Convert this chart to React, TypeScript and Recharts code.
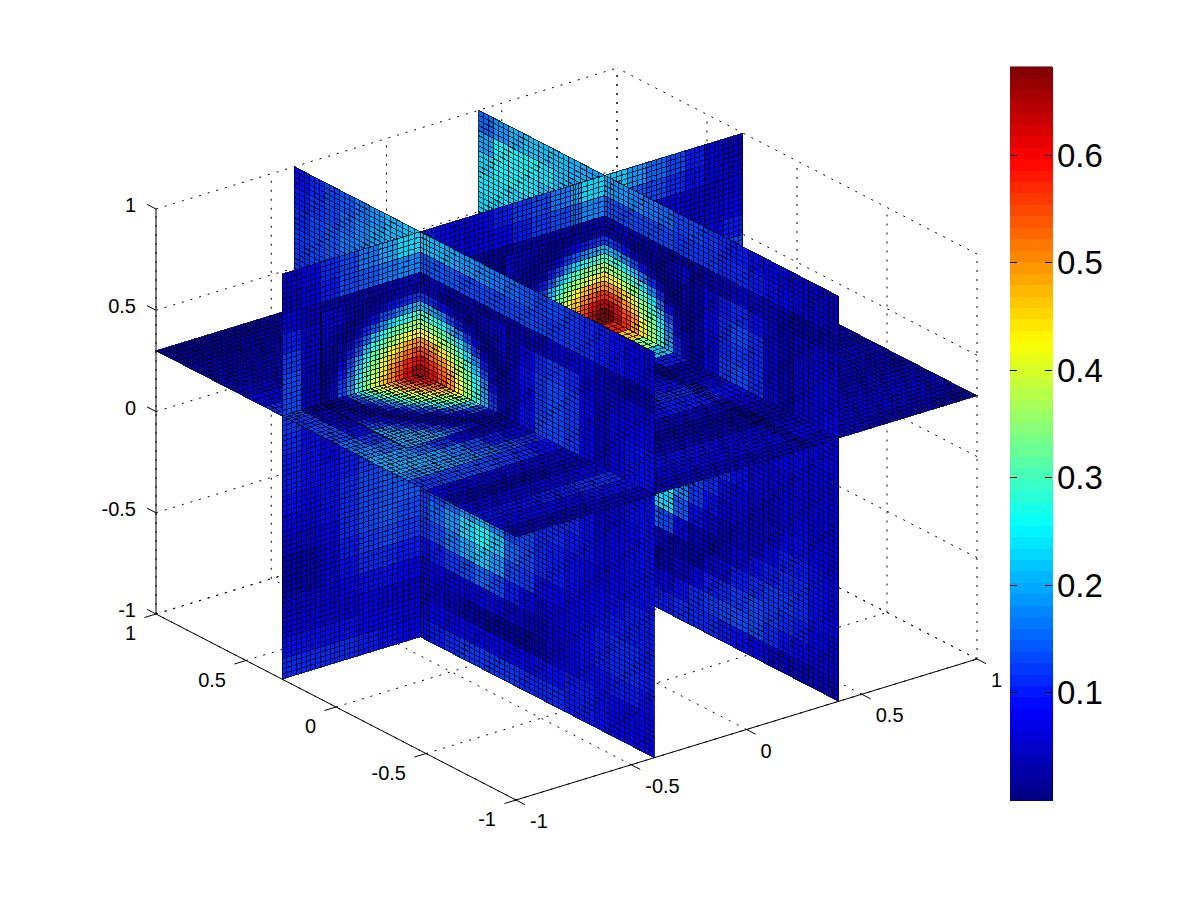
import { Bar, BarChart, ReferenceArea, ReferenceLine, Scatter, ScatterChart, XAxis, YAxis } from 'recharts'

// slice positions
const X_NEAR = -0.4
const X_FAR = 0.4
const Y_SLICE = 0.3
const Z_SLICE = 0.3

const gridEdges = [-1, -0.9167, -0.8333, -0.75, -0.6667, -0.5833, -0.5, -0.4, -0.3333, -0.25, -0.1667, -0.0833, 0, 0.0833, 0.1667, 0.25, 0.3, 0.4, 0.5, 0.5833, 0.6667, 0.75, 0.8333, 0.9167, 1]
const zEdges = [1, 0.9, 0.8, 0.7, 0.6, 0.5, 0.4, 0.3, 0.2, 0.1, 0, -0.1, -0.2, -0.3, -0.4, -0.5, -0.6, -0.7, -0.8, -0.9, -1]
const axisTicks = [-1, -0.5, 0, 0.5, 1]
const colorbarTicks = [0.1, 0.2, 0.3, 0.4, 0.5, 0.6]
const COLOR_MIN = 0.003
const COLOR_MAX = 0.68
const COLORBAR_TOP = 0.682

// values x100. rows: z from 1 to -1, columns: y from 1 to -1
const xNearValues = [
  [9, 11, 13, 15, 17, 19, 21, 22, 22, 21, 20, 19, 18, 17, 16, 15, 14, 13, 12, 11, 10, 9, 8, 7],
  [10, 12, 14, 16, 18, 20, 21, 20, 15, 15, 15, 14, 14, 14, 13, 13, 13, 12, 12, 11, 10, 9, 8, 7],
  [11, 13, 15, 17, 18, 18, 16, 12, 5, 5, 4, 4, 3, 3, 4, 4, 5, 6, 7, 7, 5, 4, 4, 4],
  [12, 14, 15, 16, 16, 14, 12, 14, 22, 20, 16, 11, 6, 3, 4, 8, 11, 12, 11, 7, 5, 6, 7, 7],
  [12, 13, 14, 14, 13, 12, 20, 30, 38, 35, 29, 21, 12, 5, 5, 9, 12, 14, 12, 8, 5, 7, 8, 8],
  [11, 11, 10, 9, 10, 18, 32, 44, 50, 47, 41, 31, 19, 8, 5, 8, 12, 13, 12, 8, 5, 7, 9, 9],
  [9, 8, 7, 6, 12, 28, 46, 58, 64, 57, 48, 36, 22, 9, 5, 9, 13, 14, 12, 8, 5, 7, 9, 9],
  [8, 7, 6, 6, 10, 24, 40, 52, 56, 52, 44, 33, 19, 8, 5, 8, 12, 13, 12, 9, 6, 7, 9, 9],
  [8, 7, 6, 6, 8, 14, 20, 26, 28, 26, 22, 17, 11, 6, 5, 8, 11, 12, 12, 9, 6, 7, 9, 9],
  [8, 7, 7, 7, 7, 9, 11, 13, 13, 13, 12, 10, 8, 6, 6, 9, 10, 11, 11, 9, 6, 7, 8, 9],
  [8, 8, 8, 8, 8, 8, 8, 8, 8, 8, 9, 10, 10, 10, 9, 11, 11, 11, 11, 9, 7, 8, 9, 9],
  [9, 9, 9, 9, 9, 9, 9, 9, 9, 10, 12, 14, 15, 14, 12, 12, 11, 11, 10, 9, 7, 8, 9, 9],
  [9, 9, 9, 9, 10, 10, 10, 11, 12, 14, 16, 19, 21, 18, 14, 13, 11, 10, 9, 8, 7, 8, 9, 9],
  [9, 9, 9, 9, 10, 10, 11, 12, 14, 16, 19, 23, 25, 22, 16, 14, 11, 10, 9, 8, 8, 9, 10, 10],
  [8, 8, 8, 9, 9, 9, 10, 11, 12, 14, 17, 20, 22, 19, 14, 12, 9, 8, 8, 8, 9, 10, 10, 10],
  [7, 7, 7, 7, 8, 8, 8, 9, 9, 10, 12, 14, 16, 14, 10, 8, 6, 7, 8, 9, 10, 11, 11, 10],
  [6, 6, 6, 6, 6, 6, 7, 7, 7, 7, 7, 7, 8, 7, 6, 5, 5, 6, 8, 9, 10, 11, 11, 10],
  [5, 5, 5, 5, 5, 5, 5, 5, 6, 6, 5, 4, 3, 3, 3, 3, 4, 6, 8, 9, 9, 10, 10, 9],
  [6, 6, 6, 6, 6, 6, 6, 6, 7, 8, 8, 8, 8, 8, 8, 8, 9, 9, 10, 10, 9, 8, 8, 8],
  [8, 8, 8, 8, 8, 8, 8, 8, 9, 10, 11, 12, 12, 12, 12, 11, 11, 11, 10, 10, 9, 8, 8, 8],
]

const xFarValues = [
  [16, 19, 21, 22, 22, 22, 21, 20, 20, 19, 18, 17, 16, 14, 13, 12, 11, 10, 9, 8, 7, 6, 6, 5],
  [20, 25, 25, 25, 24, 22, 20, 18, 15, 14, 14, 13, 13, 12, 12, 12, 11, 11, 10, 9, 8, 7, 6, 5],
  [23, 25, 25, 24, 22, 20, 16, 13, 5, 5, 4, 4, 3, 3, 3, 4, 5, 6, 6, 5, 4, 3, 4, 4],
  [24, 24, 23, 22, 20, 16, 13, 16, 24, 21, 16, 11, 6, 3, 4, 7, 10, 11, 9, 6, 4, 5, 6, 6],
  [23, 22, 21, 19, 16, 12, 24, 32, 40, 36, 29, 21, 12, 5, 4, 8, 11, 13, 11, 6, 4, 6, 7, 7],
  [21, 19, 17, 14, 12, 22, 36, 46, 54, 50, 42, 31, 19, 8, 4, 7, 11, 12, 11, 6, 4, 6, 7, 7],
  [16, 13, 10, 10, 14, 30, 48, 60, 66, 60, 50, 37, 22, 9, 4, 7, 12, 13, 11, 6, 4, 6, 7, 8],
  [12, 9, 7, 7, 10, 24, 42, 52, 58, 54, 46, 34, 20, 9, 5, 7, 11, 12, 11, 10, 8, 8, 8, 8],
  [10, 8, 7, 7, 8, 14, 20, 26, 30, 28, 24, 18, 12, 7, 5, 7, 9, 10, 10, 10, 8, 8, 8, 8],
  [9, 8, 7, 7, 7, 9, 11, 13, 14, 14, 13, 11, 9, 7, 7, 8, 9, 9, 9, 8, 8, 8, 7, 7],
  [8, 8, 8, 8, 8, 8, 8, 8, 8, 8, 9, 10, 11, 11, 11, 11, 10, 9, 8, 7, 7, 7, 7, 7],
  [8, 8, 8, 8, 8, 8, 8, 8, 8, 10, 12, 14, 15, 14, 13, 12, 11, 9, 7, 6, 7, 7, 7, 7],
  [9, 9, 9, 9, 9, 9, 9, 9, 9, 12, 15, 19, 21, 17, 13, 11, 9, 7, 6, 5, 7, 8, 7, 7],
  [9, 9, 9, 9, 10, 10, 11, 11, 12, 15, 19, 24, 25, 18, 12, 9, 7, 6, 5, 6, 8, 9, 8, 7],
  [8, 8, 8, 9, 9, 9, 10, 11, 12, 15, 19, 23, 23, 15, 9, 6, 5, 5, 6, 8, 10, 10, 9, 8],
  [7, 7, 7, 7, 8, 8, 9, 9, 10, 12, 14, 16, 14, 8, 5, 4, 5, 7, 9, 10, 11, 11, 9, 8],
  [6, 6, 6, 6, 6, 6, 7, 7, 7, 7, 7, 6, 5, 4, 4, 6, 8, 10, 11, 12, 12, 11, 9, 8],
  [5, 5, 5, 5, 5, 5, 5, 5, 4, 4, 3, 3, 4, 6, 8, 10, 11, 12, 13, 12, 11, 10, 8, 7],
  [6, 6, 6, 6, 6, 6, 6, 6, 6, 6, 6, 7, 8, 9, 11, 12, 13, 13, 13, 11, 9, 8, 7, 6],
  [8, 8, 8, 8, 8, 8, 8, 8, 9, 9, 10, 10, 10, 11, 11, 11, 10, 9, 8, 6, 5, 5, 5, 5],
]

// rows: z from 1 to -1, columns: x from -1 to 1
const ySliceValues = [
  [6, 8, 11, 14, 17, 20, 23, 10, 8, 7, 8, 10, 12, 14, 17, 20, 23, 22, 19, 16, 13, 10, 7, 5],
  [5, 7, 10, 13, 15, 17, 18, 11, 8, 7, 7, 8, 10, 12, 14, 16, 18, 17, 15, 13, 11, 9, 7, 6],
  [7, 5, 4, 4, 4, 4, 5, 4, 3, 3, 3, 3, 4, 4, 4, 4, 4, 7, 7, 7, 7, 6, 6, 7],
  [10, 6, 4, 6, 10, 17, 22, 14, 8, 4, 3, 3, 4, 6, 11, 17, 24, 17, 13, 9, 7, 6, 7, 8],
  [12, 6, 5, 13, 22, 31, 38, 26, 14, 6, 3, 3, 5, 12, 22, 30, 40, 30, 20, 13, 8, 6, 8, 10],
  [14, 5, 6, 17, 32, 44, 50, 40, 24, 10, 4, 3, 7, 18, 32, 44, 54, 42, 28, 16, 8, 6, 9, 13],
  [13, 5, 8, 22, 38, 52, 62, 52, 30, 14, 5, 4, 9, 22, 38, 54, 66, 56, 38, 20, 7, 6, 10, 14],
  [12, 9, 8, 9, 11, 12, 13, 12, 10, 8, 7, 6, 6, 7, 8, 9, 10, 10, 9, 8, 8, 8, 9, 10],
  [11, 9, 8, 10, 11, 13, 14, 12, 10, 8, 7, 6, 6, 7, 8, 10, 11, 11, 10, 8, 7, 8, 9, 10],
  [10, 9, 8, 10, 12, 13, 14, 12, 10, 8, 7, 7, 7, 8, 9, 10, 11, 11, 10, 8, 7, 8, 9, 9],
  [10, 9, 9, 10, 12, 14, 14, 13, 11, 9, 8, 7, 7, 8, 9, 11, 12, 12, 10, 9, 8, 8, 8, 8],
  [9, 8, 9, 11, 13, 15, 15, 13, 11, 9, 8, 7, 7, 8, 10, 11, 12, 12, 11, 9, 8, 8, 8, 8],
  [8, 7, 9, 11, 13, 15, 15, 13, 11, 9, 7, 7, 7, 8, 10, 12, 13, 12, 11, 9, 8, 7, 7, 7],
  [6, 6, 8, 11, 14, 15, 14, 12, 10, 8, 7, 6, 6, 8, 10, 12, 13, 12, 10, 8, 7, 6, 6, 6],
  [4, 4, 7, 10, 12, 13, 12, 11, 9, 7, 6, 6, 6, 7, 9, 10, 11, 10, 9, 7, 6, 5, 4, 4],
  [4, 4, 7, 9, 11, 11, 10, 8, 7, 6, 5, 5, 5, 6, 7, 8, 9, 8, 7, 6, 5, 4, 4, 4],
  [6, 6, 7, 8, 9, 9, 8, 6, 5, 5, 5, 5, 5, 5, 5, 6, 6, 6, 6, 6, 6, 6, 6, 6],
  [7, 7, 7, 7, 8, 7, 6, 4, 4, 5, 5, 5, 5, 5, 4, 4, 4, 4, 5, 6, 6, 7, 7, 7],
  [9, 9, 9, 9, 8, 8, 7, 5, 6, 6, 6, 6, 6, 6, 6, 6, 5, 5, 6, 7, 8, 8, 8, 8],
  [11, 11, 11, 11, 10, 9, 8, 7, 8, 8, 9, 9, 9, 9, 8, 8, 7, 7, 8, 9, 10, 10, 10, 10],
]

// rows: y from 1 to -1, columns: x from -1 to 1
const zSliceValues = [
  [3, 3, 3, 3, 3, 4, 4, 4, 4, 4, 4, 4, 4, 4, 4, 4, 4, 4, 4, 4, 4, 4, 3, 3],
  [3, 3, 3, 4, 4, 4, 5, 5, 5, 5, 5, 5, 5, 5, 5, 5, 5, 5, 5, 4, 4, 4, 3, 3],
  [4, 4, 4, 4, 5, 5, 5, 5, 5, 5, 5, 5, 5, 5, 5, 5, 5, 5, 5, 5, 4, 4, 4, 4],
  [4, 4, 5, 5, 5, 6, 6, 6, 6, 5, 5, 5, 5, 5, 6, 6, 6, 6, 6, 5, 5, 5, 4, 4],
  [5, 5, 5, 6, 6, 7, 8, 8, 7, 6, 5, 5, 5, 6, 7, 8, 9, 9, 7, 6, 6, 5, 5, 5],
  [6, 6, 6, 7, 8, 10, 12, 13, 10, 7, 5, 5, 5, 6, 8, 11, 14, 14, 11, 8, 7, 6, 6, 6],
  [8, 7, 7, 8, 12, 20, 30, 28, 18, 9, 5, 4, 4, 6, 12, 20, 32, 30, 21, 12, 8, 7, 7, 8],
  [11, 6, 7, 15, 30, 45, 55, 50, 32, 16, 6, 4, 4, 10, 22, 38, 58, 52, 36, 18, 7, 6, 7, 10],
  [14, 5, 7, 21, 37, 52, 64, 58, 40, 22, 8, 4, 4, 15, 32, 50, 66, 58, 40, 20, 7, 6, 8, 11],
  [12, 5, 6, 16, 30, 46, 58, 50, 34, 18, 7, 4, 4, 12, 26, 42, 58, 50, 32, 15, 6, 6, 8, 11],
  [13, 6, 4, 10, 22, 36, 47, 40, 26, 12, 5, 4, 4, 8, 18, 32, 46, 38, 24, 10, 5, 6, 8, 10],
  [14, 9, 4, 5, 12, 24, 34, 28, 16, 7, 4, 4, 4, 5, 11, 20, 34, 26, 14, 6, 4, 6, 7, 9],
  [16, 12, 7, 3, 5, 12, 21, 16, 8, 4, 4, 5, 5, 4, 5, 11, 22, 14, 7, 4, 4, 5, 6, 7],
  [18, 16, 11, 7, 4, 5, 10, 7, 4, 4, 6, 7, 7, 6, 4, 5, 10, 6, 4, 4, 5, 5, 6, 6],
  [20, 19, 16, 12, 8, 5, 4, 4, 5, 7, 8, 9, 9, 8, 6, 4, 4, 4, 5, 6, 6, 5, 5, 5],
  [20, 20, 19, 17, 14, 10, 7, 6, 8, 9, 10, 10, 10, 10, 9, 7, 5, 5, 6, 6, 6, 6, 6, 5],
  [18, 19, 19, 18, 16, 14, 11, 9, 10, 11, 11, 11, 11, 11, 11, 10, 8, 6, 7, 7, 7, 7, 6, 5],
  [12, 13, 13, 13, 12, 11, 9, 9, 9, 9, 9, 9, 9, 10, 10, 10, 9, 6, 6, 7, 7, 7, 6, 5],
  [8, 7, 7, 7, 7, 7, 6, 6, 6, 6, 6, 6, 6, 6, 6, 7, 7, 5, 5, 6, 6, 6, 5, 5],
  [5, 4, 4, 4, 4, 5, 5, 5, 5, 5, 4, 4, 4, 4, 4, 4, 5, 5, 5, 5, 5, 5, 5, 4],
  [7, 7, 7, 7, 8, 8, 8, 7, 7, 7, 6, 6, 5, 5, 4, 4, 4, 5, 5, 6, 6, 6, 6, 5],
  [9, 9, 9, 10, 10, 11, 11, 10, 10, 9, 9, 9, 8, 8, 7, 6, 6, 7, 7, 7, 7, 7, 7, 6],
  [8, 8, 8, 8, 8, 9, 9, 8, 8, 8, 8, 8, 8, 8, 8, 8, 8, 7, 7, 7, 7, 6, 6, 5],
  [5, 5, 5, 5, 6, 6, 6, 6, 6, 6, 6, 6, 6, 6, 6, 6, 6, 6, 6, 5, 5, 5, 4, 3],
]

// finer reading around the two hot spots, drawn over the coarse cells
// rows: z from 0.3 upwards, columns: y from the y slice downwards
const nearPeakOnX = [
  [64, 60, 55, 49, 43, 36, 28, 21, 12, 5],
  [60, 57, 53, 48, 41, 35, 27, 20, 11, 5],
  [55, 53, 49, 44, 38, 32, 25, 18, 9, 4],
  [49, 48, 44, 40, 35, 28, 22, 14, 7, 3],
  [43, 41, 38, 35, 29, 24, 18, 10, 5, 3],
  [36, 35, 32, 28, 24, 19, 12, 6, 3, 3],
  [28, 27, 25, 22, 18, 12, 7, 4, 3, 5],
  [21, 20, 18, 14, 10, 6, 4, 3, 5, 6],
  [12, 11, 9, 7, 5, 3, 3, 5, 6, 7],
  [5, 5, 4, 3, 3, 3, 5, 6, 7, 8],
]
const farPeakOnX = [
  [67, 63, 57, 50, 44, 36, 28, 20, 11, 5],
  [63, 60, 55, 49, 42, 35, 27, 19, 10, 5],
  [57, 55, 50, 45, 38, 32, 25, 17, 8, 4],
  [50, 49, 45, 41, 35, 28, 22, 13, 6, 3],
  [44, 42, 38, 35, 29, 24, 17, 9, 4, 3],
  [37, 35, 32, 28, 24, 18, 11, 5, 3, 3],
  [29, 27, 25, 22, 17, 11, 6, 3, 3, 4],
  [21, 20, 18, 14, 9, 5, 3, 3, 4, 5],
  [12, 11, 9, 6, 4, 3, 3, 4, 5, 6],
  [5, 4, 4, 3, 3, 3, 4, 5, 6, 7],
]
// rows: z from 0.3 upwards, columns: x from the x slice downwards
const nearPeakOnY = [
  [64, 61, 56, 51, 46, 40, 33, 27, 19, 13, 6, 4],
  [60, 58, 54, 49, 44, 38, 32, 25, 18, 12, 6, 4],
  [55, 53, 50, 46, 41, 35, 29, 23, 16, 10, 5, 3],
  [49, 48, 45, 42, 37, 32, 26, 20, 13, 7, 4, 3],
  [43, 42, 39, 36, 32, 27, 22, 15, 10, 5, 4, 4],
  [36, 35, 33, 30, 26, 22, 16, 11, 6, 4, 3, 5],
  [28, 27, 26, 23, 19, 15, 11, 6, 4, 3, 5, 6],
  [21, 20, 18, 15, 13, 9, 6, 4, 3, 4, 6, 7],
  [12, 11, 10, 9, 6, 5, 4, 3, 5, 6, 7, 8],
  [5, 5, 5, 4, 4, 3, 3, 4, 5, 6, 7, 8],
]
const farPeakOnY = [
  [67, 63, 57, 52, 46, 40, 33, 26, 18, 12, 6, 4],
  [63, 60, 55, 50, 44, 38, 31, 24, 17, 11, 5, 4],
  [57, 54, 51, 46, 41, 35, 28, 22, 15, 9, 5, 3],
  [50, 49, 46, 42, 37, 32, 25, 19, 12, 6, 4, 3],
  [44, 42, 39, 36, 32, 27, 21, 14, 9, 5, 3, 3],
  [37, 35, 33, 30, 26, 21, 15, 10, 5, 3, 3, 4],
  [29, 27, 26, 23, 19, 14, 10, 5, 3, 3, 4, 5],
  [21, 20, 18, 15, 12, 8, 5, 3, 3, 4, 5, 6],
  [12, 11, 10, 8, 6, 4, 3, 3, 4, 5, 6, 7],
  [5, 5, 4, 4, 3, 3, 3, 4, 5, 6, 6, 7],
]
// rows: y from the y slice downwards, columns: x from the x slice downwards
const nearPeakOnZ = [
  [64, 60, 55, 50, 44, 39, 30, 24, 16, 8, 4, 3],
  [59, 56, 51, 47, 41, 34, 27, 20, 13, 6, 4, 4],
  [54, 51, 46, 41, 35, 29, 22, 15, 9, 4, 3, 6],
  [47, 45, 41, 36, 30, 24, 17, 11, 5, 3, 6, 8],
  [41, 37, 33, 28, 23, 17, 11, 6, 3, 6, 9, 11],
  [33, 30, 26, 22, 16, 11, 6, 3, 5, 9, 12, 15],
  [24, 21, 17, 13, 8, 4, 4, 6, 10, 14, 18, 20],
  [15, 13, 9, 6, 4, 4, 7, 11, 14, 18, 20, 20],
  [8, 6, 4, 4, 5, 8, 12, 15, 19, 20, 20, 20],
  [4, 4, 5, 7, 10, 13, 16, 19, 20, 20, 20, 19],
]

const PATCH_X_STEP = 1 / 28
const PATCH_Y_STEP = 1 / 21
const PATCH_Z_STEP = 0.045

// matlab view: how one data unit lands on the page, page origin is x=0 y=0 z=0
const ORIGIN_X = 566.5
const ORIGIN_Y = 434
const project = (x: number, y: number, z: number) => ({
  sx: 230.5 * x - 180 * y,
  sy: 70.5 * x + 93 * y + 202.5 * z,
})

const jet = (level: number) => {
  const t = (level + 0.5) / 64
  const ch = (c: number) => Math.round(255 * Math.max(0, Math.min(1, 1.5 - Math.abs(4 * t - c))))
  return `rgb(${ch(3)},${ch(2)},${ch(1)})`
}
const colorOf = (v: number) => {
  const level = Math.floor(((v - COLOR_MIN) / (COLOR_MAX - COLOR_MIN)) * 64)
  return jet(Math.max(0, Math.min(63, level)))
}

type P3 = [number, number, number]

// back to front order through the four slice planes
const side = (v: number, p: number, farIsHigh: boolean) => {
  if (Math.abs(v - p) < 1e-6) return 1
  return v > p === farIsHigh ? 0 : 2
}
const orderKey = ([x, y, z]: P3) =>
  side(x, X_FAR, true) * 27 + side(x, X_NEAR, true) * 9 + side(y, Y_SLICE, true) * 3 + side(z, Z_SLICE, false)

const makeCell = (
  a: [number, number],
  b: [number, number],
  at: (p: number, q: number) => P3,
  value: number,
  subA: number,
  subB: number,
) => {
  const mid = at((a[0] + a[1]) / 2, (b[0] + b[1]) / 2)
  const c = project(...mid)
  const pt = (p: number, q: number) => {
    const s = project(...at(p, q))
    return `${(s.sx - c.sx).toFixed(2)} ${(c.sy - s.sy).toFixed(2)}`
  }
  const fill = `M${pt(a[0], b[0])}L${pt(a[1], b[0])}L${pt(a[1], b[1])}L${pt(a[0], b[1])}Z`
  let mesh = fill
  for (let i = 1; i < subA; i++) {
    const p = a[0] + ((a[1] - a[0]) * i) / subA
    mesh += `M${pt(p, b[0])}L${pt(p, b[1])}`
  }
  for (let i = 1; i < subB; i++) {
    const q = b[0] + ((b[1] - b[0]) * i) / subB
    mesh += `M${pt(a[0], q)}L${pt(a[1], q)}`
  }
  return { ...c, fill, mesh, color: colorOf(value / 100), key: orderKey(mid) }
}

const span = (edges: number[], i: number): [number, number] => [edges[i], edges[i + 1]]
const descending = [...gridEdges].reverse()
const stepSpan = (start: number, step: number, i: number): [number, number] => [start + step * i, start + step * (i + 1)]

const coarseCells = [
  ...xNearValues.flatMap((row, r) =>
    row.map((v, c) => makeCell(span(descending, c), span(zEdges, r), (y, z) => [X_NEAR, y, z], v, 3, 4)),
  ),
  ...xFarValues.flatMap((row, r) =>
    row.map((v, c) => makeCell(span(descending, c), span(zEdges, r), (y, z) => [X_FAR, y, z], v, 3, 4)),
  ),
  ...ySliceValues.flatMap((row, r) =>
    row.map((v, c) => makeCell(span(gridEdges, c), span(zEdges, r), (x, z) => [x, Y_SLICE, z], v, 4, 4)),
  ),
  ...zSliceValues.flatMap((row, r) =>
    row.map((v, c) => makeCell(span(gridEdges, c), span(descending, r), (x, y) => [x, y, Z_SLICE], v, 4, 3)),
  ),
]

const peakOnX = (rows: number[][], xAt: number) =>
  rows.flatMap((row, r) =>
    row.map((v, c) =>
      makeCell(stepSpan(Y_SLICE, -PATCH_Y_STEP, c), stepSpan(Z_SLICE, PATCH_Z_STEP, r), (y, z) => [xAt, y, z], v, 2, 2),
    ),
  )
const peakOnY = (rows: number[][], xStart: number) =>
  rows.flatMap((row, r) =>
    row.map((v, c) =>
      makeCell(stepSpan(xStart, -PATCH_X_STEP, c), stepSpan(Z_SLICE, PATCH_Z_STEP, r), (x, z) => [x, Y_SLICE, z], v, 2, 2),
    ),
  )
const peakOnZ = (rows: number[][], xStart: number) =>
  rows.flatMap((row, r) =>
    row.map((v, c) =>
      makeCell(stepSpan(xStart, -PATCH_X_STEP, c), stepSpan(Y_SLICE, -PATCH_Y_STEP, r), (x, y) => [x, y, Z_SLICE], v, 2, 2),
    ),
  )

// sort is stable, so the finer cells stay on top of the coarse ones in the same plane
const cells = [
  ...coarseCells,
  ...peakOnX(nearPeakOnX, X_NEAR),
  ...peakOnX(farPeakOnX, X_FAR),
  ...peakOnY(nearPeakOnY, X_NEAR),
  ...peakOnY(farPeakOnY, X_FAR),
  ...peakOnZ(nearPeakOnZ, X_NEAR),
].sort((p, q) => p.key - q.key)

const seg = (a: P3, b: P3) => {
  const p = project(...a)
  const q = project(...b)
  return [
    { x: p.sx, y: p.sy },
    { x: q.sx, y: q.sy },
  ]
}

const gridLines = axisTicks.flatMap((t) => [
  seg([t, -1, -1], [t, 1, -1]),
  seg([-1, t, -1], [1, t, -1]),
  seg([1, t, -1], [1, t, 1]),
  seg([1, -1, t], [1, 1, t]),
  seg([t, 1, -1], [t, 1, 1]),
  seg([-1, 1, t], [1, 1, t]),
])

const TICK = 0.05
const axisLines = [
  seg([-1, 1, -1], [-1, 1, 1]),
  seg([-1, -1, -1], [-1, 1, -1]),
  seg([-1, -1, -1], [1, -1, -1]),
  ...axisTicks.flatMap((t) => [
    seg([-1, 1, t], [-1, 1 + TICK, t]),
    seg([-1, t, -1], [-1 - TICK, t, -1]),
    seg([t, -1, -1], [t, -1 - TICK, -1]),
  ]),
]

const tickLabels = axisTicks.flatMap((t) => [
  { ...project(-1, 1, t), text: String(t), anchor: 'end', dx: -20, dy: -4 },
  { ...project(-1, t, -1), text: String(t), anchor: 'end', dx: -20, dy: 19 },
  { ...project(t, -1, -1), text: String(t), anchor: 'start', dx: 14, dy: 21 },
])

const CellShape = ({ cx, cy, payload }: any) => (
  <g transform={`translate(${cx},${cy})`} shapeRendering="crispEdges">
    <path d={payload.fill} fill={payload.color} />
    <path d={payload.mesh} fill="none" stroke="#000" strokeOpacity={0.8} strokeWidth={1} />
  </g>
)

const LabelShape = ({ cx, cy, payload }: any) => (
  <text x={cx + payload.dx} y={cy + payload.dy} textAnchor={payload.anchor} dominantBaseline="central" fontSize={20} fill="#000">
    {payload.text}
  </text>
)

const levels = Array.from({ length: 64 }, (_, i) => i)
const colorbarRow = [Object.fromEntries(levels.map((i) => [`l${i}`, COLORBAR_TOP / 64]))]

// recharts hands the tick its x after its own 8px of tick size and margin
const ColorbarTick = ({ x, y, payload }: any) => (
  <g shapeRendering="crispEdges">
    <line x1={x - 50} x2={x - 43} y1={y} y2={y} stroke="#000" />
    <line x1={x - 15} x2={x - 8} y1={y} y2={y} stroke="#000" />
    <text x={x - 3} y={y} dominantBaseline="central" fontSize={33} fill="#000">
      {payload.value}
    </text>
  </g>
)

export default function App() {
  return (
    <div style={{ position: 'absolute', left: 0, top: 0, width: 1200, height: 900, background: '#fff', fontFamily: '"Liberation Sans", Arial, sans-serif' }}>
      <ScatterChart width={1200} height={900} margin={{ top: 0, right: 0, bottom: 0, left: 0 }} style={{ position: 'absolute', left: 0, top: 0 }}>
        <XAxis type="number" dataKey="sx" domain={[-ORIGIN_X, 1200 - ORIGIN_X]} hide />
        <YAxis type="number" dataKey="sy" domain={[ORIGIN_Y - 900, ORIGIN_Y]} hide />
        {gridLines.map((s, i) => (
          <ReferenceLine key={`g${i}`} segment={s} stroke="#000" strokeDasharray="2 7" ifOverflow="visible" />
        ))}
        {axisLines.map((s, i) => (
          <ReferenceLine key={`a${i}`} segment={s} stroke="#000" ifOverflow="visible" />
        ))}
        <Scatter data={cells} shape={CellShape} isAnimationActive={false} />
        <Scatter data={tickLabels} shape={LabelShape} isAnimationActive={false} />
      </ScatterChart>
      <BarChart
        width={190}
        height={900}
        data={colorbarRow}
        barCategoryGap={0}
        margin={{ top: 67, right: 0, bottom: 100, left: 0 }}
        style={{ position: 'absolute', left: 1010, top: 0 }}
      >
        <XAxis hide />
        <YAxis
          orientation="right"
          width={148}
          domain={[0, COLORBAR_TOP]}
          ticks={colorbarTicks}
          axisLine={false}
          tickLine={false}
          tick={ColorbarTick}
        />
        {levels.map((i) => (
          <Bar key={i} dataKey={`l${i}`} stackId="cb" fill={jet(i)} stroke={jet(i)} shapeRendering="crispEdges" isAnimationActive={false} />
        ))}
        <ReferenceArea y1={0} y2={COLORBAR_TOP} fill="none" stroke="#000" isFront ifOverflow="visible" />
      </BarChart>
    </div>
  )
}
